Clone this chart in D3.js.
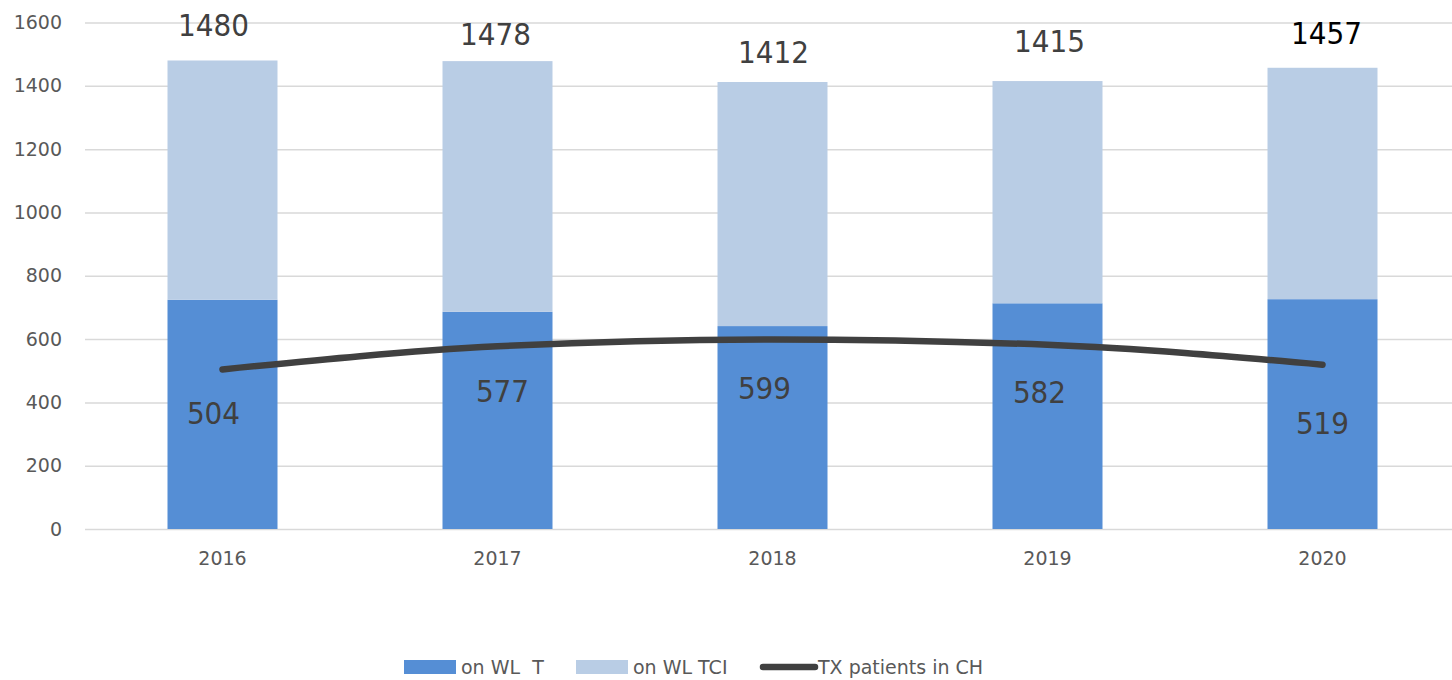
<!DOCTYPE html>
<html>
<head>
<meta charset="utf-8">
<script src="https://cdn.jsdelivr.net/npm/d3@7"></script>
<style>
  body { margin: 0; background: #fff; }
  svg { display: block; font-family: "DejaVu Sans", Verdana, sans-serif; }
</style>
</head>
<body>
<div id="chart"></div>
<script>
// chart data
var years       = ['2016', '2017', '2018', '2019', '2020'];
var onWlT       = [724, 686, 641, 713, 726];
var totals      = [1480, 1478, 1412, 1415, 1457];
var onWlTci     = totals.map(function(t, i) { return t - onWlT[i]; });
var txPatients  = [504, 577, 599, 582, 519];
var yTicks      = [0, 200, 400, 600, 800, 1000, 1200, 1400, 1600];

// hand-placed label nudges (like in the original sheet)
var totalNudge = [[-9, -36], [-2, -27], [1, -30], [2, -40], [4, -35]];
var txNudge    = [[-9, 43], [5, 44], [-8, 48], [-8, 47], [0, 58]];

var width  = 1452;
var height = 680;

var dark_color  = '#558ed5';
var light_color = '#b9cde5';
var line_color  = '#404040';
var grid_color  = '#d9d9d9';

var svg = d3.select('#chart')
    .append('svg')
    .attr('width', width)
    .attr('height', height);

var x_scale = d3.scaleBand()
    .domain(years)
    .range([85, 1460])
    .paddingInner(0.6)
    .paddingOuter(0.3);

var y_scale = d3.scaleLinear()
    .domain([0, 1600])
    .range([529, 22.5]);

// gridlines + y labels
var y_axis = d3.axisLeft(y_scale)
    .tickValues(yTicks)
    .tickSize(-(width - 85))
    .tickPadding(23)
    .tickFormat(d3.format('d'));

var gy = svg.append('g')
    .attr('transform', 'translate(85,0)')
    .call(y_axis);
gy.select('.domain').remove();
gy.selectAll('.tick line')
    .attr('stroke', grid_color)
    .attr('stroke-width', 1.5);
gy.selectAll('.tick text')
    .attr('fill', '#595959')
    .attr('font-size', '19px')
    .attr('font-family', '"DejaVu Sans", sans-serif');

// stacked bars
var rows = years.map(function(y, i) {
    return { year: y, t: onWlT[i], tci: onWlTci[i] };
});
var stack_data = d3.stack().keys(['t', 'tci'])(rows);
var colors = [dark_color, light_color];

svg.selectAll('g.series')
    .data(stack_data)
    .enter()
    .append('g')
    .attr('class', 'series')
    .attr('fill', function(d, i) { return colors[i]; })
    .selectAll('rect')
    .data(function(d) { return d; })
    .enter()
    .append('rect')
    .attr('x', function(d) { return x_scale(d.data.year); })
    .attr('y', function(d) { return y_scale(d[1]); })
    .attr('width', x_scale.bandwidth())
    .attr('height', function(d) { return y_scale(d[0]) - y_scale(d[1]); });

// x axis labels
var x_axis = d3.axisBottom(x_scale).tickSize(0).tickPadding(23);
var gx = svg.append('g')
    .attr('transform', 'translate(0,529)')
    .call(x_axis);
gx.select('.domain').remove();
gx.selectAll('.tick text')
    .attr('fill', '#595959')
    .attr('font-size', '19px')
    .attr('font-family', '"DejaVu Sans", sans-serif');

// TX patients line
var cx = function(i) { return x_scale(years[i]) + x_scale.bandwidth() / 2; };
var line = d3.line()
    .x(function(d, i) { return cx(i); })
    .y(function(d) { return y_scale(d); })
    .curve(d3.curveMonotoneX);

svg.append('path')
    .datum(txPatients)
    .attr('d', line)
    .attr('fill', 'none')
    .attr('stroke', line_color)
    .attr('stroke-width', 6.5)
    .attr('stroke-linecap', 'round')
    .attr('stroke-linejoin', 'round');

// total labels above bars
svg.selectAll('text.total')
    .data(totals)
    .enter()
    .append('text')
    .attr('class', 'total')
    .attr('x', function(d, i) { return cx(i) + totalNudge[i][0]; })
    .attr('y', function(d, i) { return y_scale(d) + totalNudge[i][1]; })
    .attr('dy', '0.36em')
    .attr('text-anchor', 'middle')
    .attr('font-family', '"DejaVu Sans Condensed", "DejaVu Sans", sans-serif')
    .attr('font-size', '31px')
    .attr('fill', function(d, i) { return i === 4 ? '#000' : line_color; })
    .text(function(d) { return d; });

// TX labels
svg.selectAll('text.tx')
    .data(txPatients)
    .enter()
    .append('text')
    .attr('class', 'tx')
    .attr('x', function(d, i) { return cx(i) + txNudge[i][0]; })
    .attr('y', function(d, i) { return y_scale(d) + txNudge[i][1]; })
    .attr('dy', '0.36em')
    .attr('text-anchor', 'middle')
    .attr('font-family', '"DejaVu Sans Condensed", "DejaVu Sans", sans-serif')
    .attr('font-size', '31px')
    .attr('fill', line_color)
    .text(function(d) { return d; });

// legend
var legend = svg.append('g').attr('font-size', '19px').attr('fill', '#595959');

legend.append('rect').attr('x', 404).attr('y', 660).attr('width', 52).attr('height', 14).attr('fill', dark_color);
legend.append('text').attr('x', 461).attr('y', 667).attr('dy', '0.36em').text('on WL  T').style('white-space', 'pre');

legend.append('rect').attr('x', 576).attr('y', 660).attr('width', 52).attr('height', 14).attr('fill', light_color);
legend.append('text').attr('x', 633).attr('y', 667).attr('dy', '0.36em').text('on WL TCI');

legend.append('line').attr('x1', 763).attr('x2', 815).attr('y1', 667).attr('y2', 667)
    .attr('stroke', line_color).attr('stroke-width', 6.5).attr('stroke-linecap', 'round');
legend.append('text').attr('x', 818).attr('y', 667).attr('dy', '0.36em').text('TX patients in CH');
</script>
</body>
</html>
